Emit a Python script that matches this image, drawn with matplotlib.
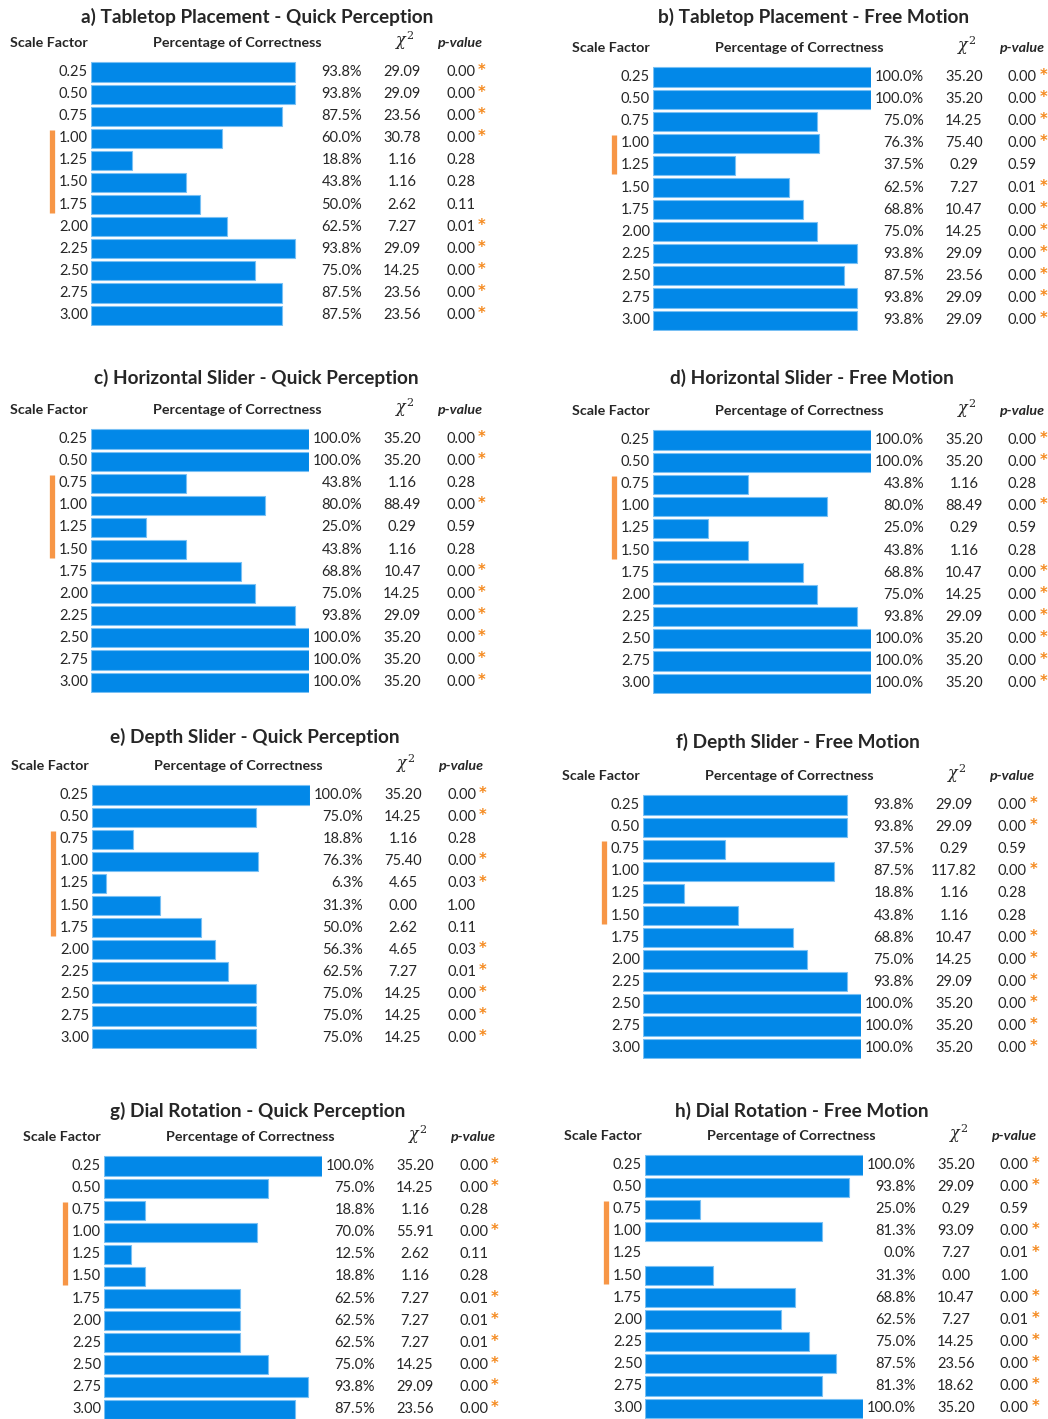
import numpy as np
import matplotlib
matplotlib.use('Agg')
import matplotlib.pyplot as plt
from matplotlib.lines import Line2D
import matplotlib.transforms as mtransforms

plt.rcParams['font.family'] = ['Lato', 'DejaVu Sans']
plt.rcParams['mathtext.fontset'] = 'dejavuserif'

scale = ['0.25', '0.50', '0.75', '1.00', '1.25', '1.50',
         '1.75', '2.00', '2.25', '2.50', '2.75', '3.00']

# a) Tabletop Placement - Quick Perception
pct_a = [93.8, 93.8, 87.5, 60.0, 18.8, 43.8, 50.0, 62.5, 93.8, 75.0, 87.5, 87.5]
chi_a = [29.09, 29.09, 23.56, 30.78, 1.16, 1.16, 2.62, 7.27, 29.09, 14.25, 23.56, 23.56]
p_a = [0.00, 0.00, 0.00, 0.00, 0.28, 0.28, 0.11, 0.01, 0.00, 0.00, 0.00, 0.00]

# b) Tabletop Placement - Free Motion
pct_b = [100.0, 100.0, 75.0, 76.3, 37.5, 62.5, 68.8, 75.0, 93.8, 87.5, 93.8, 93.8]
chi_b = [35.20, 35.20, 14.25, 75.40, 0.29, 7.27, 10.47, 14.25, 29.09, 23.56, 29.09, 29.09]
p_b = [0.00, 0.00, 0.00, 0.00, 0.59, 0.01, 0.00, 0.00, 0.00, 0.00, 0.00, 0.00]

# c) Horizontal Slider - Quick Perception
pct_c = [100.0, 100.0, 43.8, 80.0, 25.0, 43.8, 68.8, 75.0, 93.8, 100.0, 100.0, 100.0]
chi_c = [35.20, 35.20, 1.16, 88.49, 0.29, 1.16, 10.47, 14.25, 29.09, 35.20, 35.20, 35.20]
p_c = [0.00, 0.00, 0.28, 0.00, 0.59, 0.28, 0.00, 0.00, 0.00, 0.00, 0.00, 0.00]

# d) Horizontal Slider - Free Motion
pct_d = [100.0, 100.0, 43.8, 80.0, 25.0, 43.8, 68.8, 75.0, 93.8, 100.0, 100.0, 100.0]
chi_d = [35.20, 35.20, 1.16, 88.49, 0.29, 1.16, 10.47, 14.25, 29.09, 35.20, 35.20, 35.20]
p_d = [0.00, 0.00, 0.28, 0.00, 0.59, 0.28, 0.00, 0.00, 0.00, 0.00, 0.00, 0.00]

# e) Depth Slider - Quick Perception
pct_e = [100.0, 75.0, 18.8, 76.3, 6.3, 31.3, 50.0, 56.3, 62.5, 75.0, 75.0, 75.0]
chi_e = [35.20, 14.25, 1.16, 75.40, 4.65, 0.00, 2.62, 4.65, 7.27, 14.25, 14.25, 14.25]
p_e = [0.00, 0.00, 0.28, 0.00, 0.03, 1.00, 0.11, 0.03, 0.01, 0.00, 0.00, 0.00]

# f) Depth Slider - Free Motion
pct_f = [93.8, 93.8, 37.5, 87.5, 18.8, 43.8, 68.8, 75.0, 93.8, 100.0, 100.0, 100.0]
chi_f = [29.09, 29.09, 0.29, 117.82, 1.16, 1.16, 10.47, 14.25, 29.09, 35.20, 35.20, 35.20]
p_f = [0.00, 0.00, 0.59, 0.00, 0.28, 0.28, 0.00, 0.00, 0.00, 0.00, 0.00, 0.00]

# g) Dial Rotation - Quick Perception
pct_g = [100.0, 75.0, 18.8, 70.0, 12.5, 18.8, 62.5, 62.5, 62.5, 75.0, 93.8, 87.5]
chi_g = [35.20, 14.25, 1.16, 55.91, 2.62, 1.16, 7.27, 7.27, 7.27, 14.25, 29.09, 23.56]
p_g = [0.00, 0.00, 0.28, 0.00, 0.11, 0.28, 0.01, 0.01, 0.01, 0.00, 0.00, 0.00]

# h) Dial Rotation - Free Motion
pct_h = [100.0, 93.8, 25.0, 81.3, 0.0, 31.3, 68.8, 62.5, 75.0, 87.5, 81.3, 100.0]
chi_h = [35.20, 29.09, 0.29, 93.09, 7.27, 0.00, 10.47, 7.27, 14.25, 23.56, 18.62, 35.20]
p_h = [0.00, 0.00, 0.59, 0.00, 0.01, 1.00, 0.00, 0.01, 0.00, 0.00, 0.00, 0.00]

# rows marked with the orange bracket (first, last index)
range_a = (3, 6)
range_b = (3, 4)
range_c = (2, 5)
range_d = (2, 5)
range_e = (2, 6)
range_f = (2, 5)
range_g = (2, 5)
range_h = (2, 5)

titles = ['a) Tabletop Placement - Quick Perception',
          'b) Tabletop Placement - Free Motion',
          'c) Horizontal Slider - Quick Perception',
          'd) Horizontal Slider - Free Motion',
          'e) Depth Slider - Quick Perception',
          'f) Depth Slider - Free Motion',
          'g) Dial Rotation - Quick Perception',
          'h) Dial Rotation - Free Motion']

W, H = 1048, 1419
BAR_W = 218.0   # px for 100 %
ROW = 22.1      # px per row
BLUE = '#0288e8'
EDGE = '#79c0f4'
ORANGE = '#f79646'
STAR = '#f58a1f'
TXT = '#262626'

# (bar start x, first row y, title centre x, title y) in pixels
layout = [
    (91, 72, 257, 17),
    (653, 77, 814, 17),
    (91, 439, 256, 378),
    (653, 440, 812, 378),
    (92, 795, 255, 737),
    (643, 805, 798, 742),
    (104, 1166, 258, 1111),
    (645, 1165, 802, 1111),
]

fig = plt.figure(figsize=(W / 100, H / 100), dpi=100)


def panel(pos, title, pct, chi, p, rng):
    bx, y0, tx, ty = pos
    n = len(pct)
    top = y0 - ROW / 2
    ax = fig.add_axes([bx / W, 1 - (top + n * ROW) / H, BAR_W / W, n * ROW / H])
    y = np.arange(n)
    edges = [EDGE if v > 0 else 'none' for v in pct]
    ax.barh(y, pct, height=0.86, color=BLUE, edgecolor=edges, linewidth=0.8)
    ax.set_xlim(0, 100)
    ax.set_ylim(n - 0.5, -0.5)
    ax.axis('off')
    tr = mtransforms.blended_transform_factory(ax.transAxes, ax.transData)

    def fx(dx):
        return dx / BAR_W

    fs = 10.5
    for i in range(n):
        ax.text(fx(-3), i, scale[i], transform=tr, ha='right', va='center',
                fontsize=fs, color=TXT)
        ax.text(fx(271), i, '%.1f%%' % pct[i], transform=tr, ha='right',
                va='center', fontsize=fs, color=TXT)
        ax.text(fx(311), i, '%.2f' % chi[i], transform=tr, ha='center',
                va='center', fontsize=fs, color=TXT)
        ax.text(fx(355), i, '%.2f' % p[i], transform=tr, ha='left',
                va='center', fontsize=fs, color=TXT)
        if p[i] < 0.05:
            ax.text(fx(391), i - 0.06, '*', transform=tr, ha='center',
                    va='center', fontsize=10.5, color=STAR, fontweight='bold',
                    family='DejaVu Sans')

    hy = -29.0 / ROW
    hfs = 10.3
    ax.text(fx(-3), hy, 'Scale Factor', transform=tr, ha='right', va='center',
            fontsize=hfs, fontweight='bold', color=TXT)
    ax.text(fx(146), hy, 'Percentage of Correctness', transform=tr,
            ha='center', va='center', fontsize=hfs, fontweight='bold', color=TXT)
    ax.text(fx(314), hy - 0.1, r'$\chi^2$', transform=tr, ha='center',
            va='center', fontsize=11.5, color=TXT)
    ax.text(fx(369), hy, 'p-value', transform=tr, ha='center', va='center',
            fontsize=hfs, fontweight='bold', style='italic', color=TXT)

    ax.add_line(Line2D([fx(-39), fx(-39)], [rng[0] - 0.37, rng[1] + 0.37],
                       transform=tr, color=ORANGE, linewidth=3.8,
                       clip_on=False, solid_capstyle='butt'))

    fig.text(tx / W, 1 - ty / H, title, ha='center', va='center',
             fontsize=13.7, fontweight='bold', color=TXT)


data = [(pct_a, chi_a, p_a, range_a), (pct_b, chi_b, p_b, range_b),
        (pct_c, chi_c, p_c, range_c), (pct_d, chi_d, p_d, range_d),
        (pct_e, chi_e, p_e, range_e), (pct_f, chi_f, p_f, range_f),
        (pct_g, chi_g, p_g, range_g), (pct_h, chi_h, p_h, range_h)]

for pos, title, (pct, chi, p, rng) in zip(layout, titles, data):
    panel(pos, title, pct, chi, p, rng)

fig.savefig('out.png', dpi=100, facecolor='white')
